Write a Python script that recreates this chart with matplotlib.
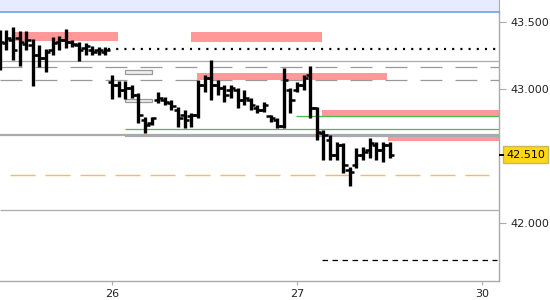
import matplotlib
matplotlib.use("Agg")
import matplotlib.pyplot as plt
from matplotlib.patches import Rectangle

plt.rcParams['font.family'] = ['DejaVu Sans']
plt.rcParams['lines.scale_dashes'] = False

# ---- data -------------------------------------------------------------
# x position of bars: trading-day index (25 -> 0, 26 -> 1, 27 -> 2, 30 -> 3) + slot/28
BARS_PER_DAY = 28
day_index = {"25": 0, "26": 1, "27": 2, "30": 3}

# day 25 (slots 11..27)
d25_open  = [43.328, 43.343, 43.366, 43.381, 43.336, 43.328, 43.254, 43.231, 43.291,
             43.351, 43.366, 43.351, 43.328, 43.306, 43.291, 43.291, 43.276]
d25_high  = [43.440, 43.440, 43.463, 43.433, 43.433, 43.373, 43.328, 43.299, 43.388,
             43.396, 43.448, 43.366, 43.351, 43.343, 43.321, 43.313, 43.313]
d25_low   = [43.142, 43.291, 43.216, 43.172, 43.291, 43.022, 43.164, 43.127, 43.254,
             43.291, 43.306, 43.313, 43.209, 43.254, 43.254, 43.254, 43.254]
d25_close = [43.351, 43.381, 43.291, 43.351, 43.366, 43.254, 43.231, 43.276, 43.343,
             43.366, 43.351, 43.336, 43.291, 43.321, 43.276, 43.291, 43.291]

# day 26 (slots 0..27)
d26_open  = [43.052, 43.030, 42.993, 43.007, 42.955, 42.769, 42.746, 42.918, 42.918, 42.896,
             42.843, 42.806, 42.799, 42.806, 43.030, 43.082, 43.030, 43.007, 42.993, 42.993,
             42.918, 42.918, 42.858, 42.843, 42.799, 42.769, 42.724, 42.993]
d26_high  = [43.104, 43.060, 43.060, 43.030, 42.970, 42.791, 42.791, 42.978, 42.940, 42.918,
             42.866, 42.843, 42.821, 43.067, 43.104, 43.216, 43.067, 43.030, 43.030, 43.007,
             42.993, 42.933, 42.881, 42.903, 42.806, 42.784, 43.157, 43.007]
d26_low   = [42.925, 42.940, 42.925, 42.933, 42.746, 42.672, 42.731, 42.896, 42.881, 42.843,
             42.716, 42.709, 42.716, 42.784, 42.978, 42.918, 42.955, 42.903, 42.933, 42.858,
             42.881, 42.843, 42.821, 42.828, 42.754, 42.709, 42.709, 42.821]
d26_close = [43.030, 42.993, 43.007, 42.955, 42.806, 42.731, 42.784, 42.933, 42.903, 42.873,
             42.784, 42.769, 42.806, 43.030, 43.082, 43.030, 43.007, 42.955, 43.007, 42.918,
             42.933, 42.881, 42.843, 42.881, 42.784, 42.724, 43.067, 42.918]

# day 27 (slots 0..14)
d27_open  = [42.993, 43.030, 43.104, 42.858, 42.672, 42.619, 42.507, 42.582, 42.396, 42.433,
             42.507, 42.545, 42.582, 42.545, 42.582]
d27_high  = [43.052, 43.104, 43.172, 42.866, 42.694, 42.657, 42.604, 42.597, 42.418, 42.560,
             42.567, 42.634, 42.604, 42.604, 42.604]
d27_low   = [42.978, 42.993, 42.784, 42.619, 42.470, 42.470, 42.470, 42.373, 42.276, 42.410,
             42.470, 42.485, 42.470, 42.455, 42.485]
d27_close = [43.030, 43.082, 42.858, 42.679, 42.657, 42.507, 42.582, 42.433, 42.381, 42.507,
             42.530, 42.597, 42.545, 42.582, 42.510]

day_slots = {"25": list(range(11, 28)), "26": list(range(0, 28)), "27": list(range(0, 15))}

x_tick_labels = ["26", "27", "30"]
y_tick_values = [43.5, 43.0, 42.0]
last_price = 42.510

# horizontal levels: (price, start position)
grey_solid_levels = [43.209, 42.097]
grey_dashed_levels = [43.164, 43.067]
dotted_level = (43.299, 0.98)
orange_dashed_level = (42.358, 0.45, 3.04)
black_dashed_level = (41.724, 2.135)
grey_thick_levels = [(42.657, 0.0), (42.646, 1.070)]
green_levels = [(42.701, 1.070), (42.799, 1.995)]
# zones: (x0, x1, price_top, price_bottom)
pink_zones = [(0.459, 1.032, 43.425, 43.358),
              (1.427, 2.135, 43.425, 43.351),
              (1.459, 2.486, 43.119, 43.067),
              (2.135, 3.2, 42.846, 42.799),
              (2.492, 3.2, 42.642, 42.612)]
grey_boxes = [(1.070, 1.216, 43.142, 43.112),
              (1.070, 1.216, 42.922, 42.903)]

# ---- figure -------------------------------------------------------------
W, H = 550, 300
fig = plt.figure(figsize=(W / 100, H / 100), dpi=100)
ax_right_px, ax_top_px, ax_bot_px = 499, 12, 281
ax = fig.add_axes([0, 1 - ax_bot_px / H, ax_right_px / W, (ax_bot_px - ax_top_px) / H])
XMIN, XMAX = 1 - 112 / 185, 3 + 17 / 185
YMAX = 43.5 + 10 / 134
YMIN = 43.5 - 259 / 134
ax.set_xlim(XMIN, XMAX)
ax.set_ylim(YMIN, YMAX)

# header band
hb = fig.add_axes([0, 1 - 12 / H, ax_right_px / W, 12 / H])
hb.set_facecolor("#E6ECFD")
hb.set_xticks([]); hb.set_yticks([])
for s in ["left", "top"]:
    hb.spines[s].set_visible(False)
hb.spines["bottom"].set_color("#6E9EF5")
hb.spines["bottom"].set_linewidth(1.2)
hb.spines["right"].set_color("#AAAAAA")

# zones
for x0, x1, ptop, pbot in pink_zones:
    ax.add_patch(Rectangle((x0, pbot), min(x1, XMAX + 0.01) - x0, ptop - pbot,
                           facecolor="#FF9999", edgecolor="none", zorder=1))
for x0, x1, ptop, pbot in grey_boxes:
    ax.add_patch(Rectangle((x0, pbot), x1 - x0, ptop - pbot,
                           facecolor="#EEEEEE", edgecolor="#999999", lw=0.9, zorder=2))

# levels
for p in grey_solid_levels:
    ax.hlines(p, XMIN, XMAX, color="#AAAAAA", lw=0.9, zorder=2)
for p in grey_dashed_levels:
    ax.hlines(p, XMIN, XMAX, color="#999999", lw=0.9, linestyles=(0, (15.8, 9.4)), zorder=2)
ax.hlines(dotted_level[0], dotted_level[1], XMAX, color="black", lw=1.6,
          linestyles=(0, (1.5, 4.4)), zorder=2)
ax.hlines(orange_dashed_level[0], orange_dashed_level[1], orange_dashed_level[2],
          color="#F5BC50", lw=1.0, linestyles=(0, (18, 7.2)), zorder=2)
ax.hlines(black_dashed_level[0], black_dashed_level[1], XMAX - 0.01, color="black", lw=0.9,
          linestyles=(0, (4, 3.2)), zorder=2)
for p, x0 in grey_thick_levels:
    ax.hlines(p, x0, XMAX, color="#AAAAAA", lw=1.6, zorder=2)
for p, x0 in green_levels:
    ax.hlines(p, x0, XMAX, color="#4CBB4C", lw=0.9, zorder=2)

# OHLC bars
days = [("25", d25_open, d25_high, d25_low, d25_close),
        ("26", d26_open, d26_high, d26_low, d26_close),
        ("27", d27_open, d27_high, d27_low, d27_close)]
tick_w = 4.5 / 185
for d, o, h, l, c in days:
    xs = [day_index[d] + s / BARS_PER_DAY for s in day_slots[d]]
    ax.vlines(xs, l, h, color="black", lw=2.4, zorder=4)
    ax.hlines(o, [x - tick_w for x in xs], xs, color="black", lw=1.8, zorder=4)
    ax.hlines(c, xs, [x + tick_w for x in xs], color="black", lw=1.8, zorder=4)

# axes styling
for s in ["left", "top"]:
    ax.spines[s].set_visible(False)
for s in ["right", "bottom"]:
    ax.spines[s].set_color("#AAAAAA")
    ax.spines[s].set_linewidth(1.0)
ax.yaxis.tick_right()
ax.set_yticks(y_tick_values)
ax.set_yticklabels([f"{v:.3f}" for v in y_tick_values])
ax.set_xticks([day_index[t] for t in x_tick_labels])
ax.set_xticklabels(x_tick_labels)
ax.tick_params(axis="y", length=5, color="#AAAAAA", labelcolor="#222222",
               labelsize=8, pad=3)
ax.tick_params(axis="x", length=3, color="#AAAAAA", labelcolor="#222222",
               labelsize=8, pad=3)

# current price marker
ax.plot([XMAX, XMAX + 5 / 185], [last_price, last_price], color="black", lw=1.4,
        clip_on=False, zorder=5, solid_capstyle="butt")
ax.annotate(f"{last_price:.3f}", xy=(1, last_price), xycoords=("axes fraction", "data"),
            xytext=(19.0, 0), textcoords="offset points", ha="center", va="center",
            fontsize=8, color="black",
            bbox=dict(boxstyle="square,pad=0.3", facecolor="#FFD814",
                      edgecolor="#C9B85A", lw=1.0))

fig.savefig("out.png", dpi=100)
